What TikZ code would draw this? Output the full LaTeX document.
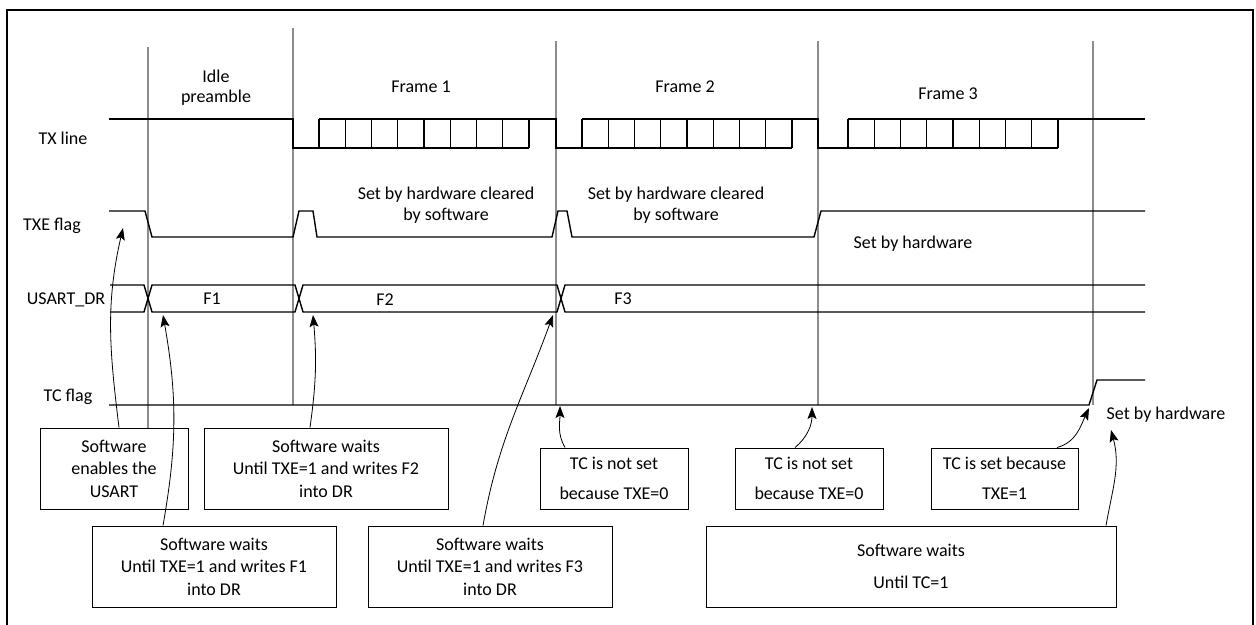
\documentclass[tikz,border=0pt]{standalone}
\usepackage{fontspec}
\setmainfont{Carlito}
\usetikzlibrary{arrows.meta}

\begin{document}
\begin{tikzpicture}[
    x=1pt, y=1pt,
    font=\fontsize{18}{22}\selectfont,
    wave/.style={line width=1.4pt, line join=miter},
    marker/.style={gray!90, line width=1.2pt},
    note/.style={draw, line width=1pt, inner sep=0pt, align=center},
    sig/.style={anchor=base, inner sep=0pt},
    link/.style={-{Stealth[length=12pt, width=9pt, inset=2.5pt]}, line width=0.8pt},
    >=Stealth
]
\useasboundingbox (0,0) rectangle (1256,-624);
\draw[line width=2pt] (7,-10) rectangle (1253,-660);

% time markers
\draw[marker] (148,-47) -- (148,-428);
\draw[marker] (293,-28) -- (293,-405);
\foreach \t in {556,818,1093}
  \draw[marker] (\t,-41) -- (\t,-405);

% signal names
\node[sig] (txName)  at (63,-144) {TX line};
\node[sig] (txeName) at (52,-230) {TXE flag};
\node[sig] (drName)  at (66,-304) {USART\_DR};
\node[sig] (tcName)  at (68,-401) {TC flag};

\node[sig, align=center] (idle) at (216,-102) {Idle\\[-2pt]preamble};
\node[sig] (fr1) at (421,-92) {Frame 1};
\node[sig] (fr2) at (685,-92) {Frame 2};
\node[sig] (fr3) at (948,-99) {Frame 3};

% TX line
\draw[wave] (109,-119) -- (293,-119) -- (293,-148) -- (529,-148);
\draw[wave] (319,-119) -- (556,-119) -- (556,-148) -- (792,-148);
\draw[wave] (582,-119) -- (818,-119) -- (818,-148) -- (1058,-148);
\draw[wave] (848,-119) -- (1145,-119);
\foreach \b in {319,582,848}
  \foreach \k in {0,...,8}
    \draw[wave] ({\b+\k*26.25},-119) -- ++(0,-29);

% TXE flag
\draw[wave] (109,-211) -- (145,-211) -- (152,-237) -- (293,-237) -- (299,-211)
  -- (313,-211) -- (317,-237) -- (552,-237) -- (558,-211) -- (567,-211)
  -- (572,-237) -- (814,-237) -- (821,-211) -- (1145,-211);
\node[sig, align=center] (clr1) at (446,-220) {Set by hardware cleared\\[-1pt]by software};
\node[sig, align=center] (clr2) at (676,-220) {Set by hardware cleared\\[-1pt]by software};
\node[sig] (hwTxe) at (913,-248) {Set by hardware};

% USART_DR
\draw[wave] (110,-285) -- (144,-285) -- (152,-312) -- (295,-312) -- (303,-285)
  -- (557,-285) -- (565,-312) -- (1145,-312);
\draw[wave] (110,-312) -- (144,-312) -- (152,-285) -- (295,-285) -- (303,-312)
  -- (557,-312) -- (565,-285) -- (1145,-285);
\node[sig] (f1) at (212,-304) {F1};
\node[sig] (f2) at (385,-305) {F2};
\node[sig] (f3) at (623,-304) {F3};

% TC flag
\draw[wave] (109,-405) -- (1089,-405) -- (1097,-380) -- (1145,-380);
\node[sig] (hwTc) at (1166,-419) {Set by hardware};

% arrow targets
\coordinate (txeHi)  at (123,-228);
\coordinate (dr1)    at (163,-315);
\coordinate (dr2)    at (313,-315);
\coordinate (dr3)    at (553,-315);
\coordinate (tcA)    at (560,-406);
\coordinate (tcB)    at (812,-407);
\coordinate (tcRise) at (1089,-408);
\coordinate (tcHw)   at (1111,-430);

% notes
\node[note, minimum width=148pt, minimum height=81pt] (swEnable) at (114,-468.5)
  {Software\\enables the\\[1pt]USART};
\node[note, minimum width=244pt, minimum height=81pt] (swF2) at (326,-468.5)
  {Software waits\\Until TXE=1 and writes F2\\[1pt]into DR};
\node[note, minimum width=244pt, minimum height=81pt] (swF1) at (214,-566.5)
  {Software waits\\Until TXE=1 and writes F1\\[1pt]into DR};
\node[note, minimum width=244pt, minimum height=81pt] (swF3) at (490,-566.5)
  {Software waits\\Until TXE=1 and writes F3\\[1pt]into DR};
\node[note, minimum width=148pt, minimum height=61pt] (tcNotA) at (614,-478.5)
  {TC is not set\\[8pt]because TXE=0};
\node[note, minimum width=148pt, minimum height=61pt] (tcNotB) at (809,-478.5)
  {TC is not set\\[8pt]because TXE=0};
\node[note, minimum width=147pt, minimum height=61pt] (tcSet) at (1004.5,-478.5)
  {TC is set because\\[8pt]TXE=1};
\node[note, minimum width=410pt, minimum height=81pt] (swTC) at (911,-566.5)
  {Software waits\\[10pt]Until TC=1};

% links
\draw[link] ([xshift=5pt]swEnable.north) to[out=97, in=257] (txeHi);
\draw[link] ([xshift=-51pt]swF1.north) to[out=80, in=280] (dr1);
\draw[link] ([xshift=-16pt]swF2.north) to[out=82, in=275] (dr2);
\draw[link] ([xshift=-7pt]swF3.north) to[out=80, in=250] (dr3);
\draw[link] ([xshift=-49pt]tcNotA.north) to[out=120, in=270] (tcA);
\draw[link] ([xshift=-14pt]tcNotB.north) to[out=40, in=270] (tcB);
\draw[link] ([xshift=52.5pt]tcSet.north) to[out=15, in=245] (tcRise);
\draw[link] ([xshift=195pt]swTC.north) to[out=80, in=285] (tcHw);
\end{tikzpicture}
\end{document}
